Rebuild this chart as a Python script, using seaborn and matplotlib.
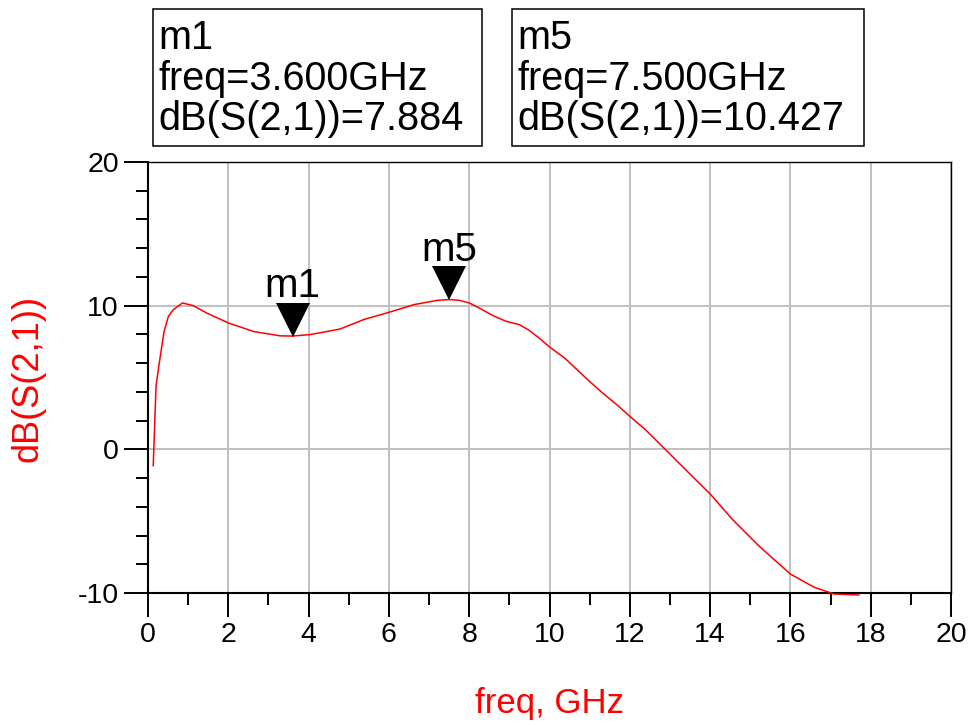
import matplotlib
matplotlib.use("Agg")
import matplotlib.pyplot as plt
import matplotlib.transforms as mtransforms
from matplotlib.patches import Rectangle
import pandas as pd
import seaborn as sns

# S21 magnitude of the amplifier versus frequency
freq_ghz = [0.13, 0.20, 0.28, 0.40, 0.51, 0.63, 0.86, 1.13, 1.46, 2.00, 2.63, 3.29,
            3.60, 4.04, 4.46, 4.79, 5.37, 6.03, 6.62, 7.20, 7.50, 7.76, 8.00, 8.25,
            8.59, 8.92, 9.25, 9.49, 9.74, 10.00, 10.40, 10.90, 11.31, 11.73, 12.00,
            12.38, 12.80, 13.38, 14.00, 14.55, 15.21, 16.00, 16.59, 17.09, 17.71]
s21_db = [-1.16, 4.40, 6.00, 8.20, 9.26, 9.72, 10.19, 10.00, 9.49, 8.80, 8.20, 7.90,
          7.884, 7.99, 8.20, 8.38, 9.03, 9.56, 10.07, 10.37, 10.427, 10.37, 10.19, 9.84,
          9.31, 8.91, 8.68, 8.29, 7.75, 7.13, 6.30, 4.98, 3.95, 2.98, 2.30,
          1.39, 0.23, -1.39, -3.10, -4.86, -6.71, -8.68, -9.60, -10.07, -10.14]

# Markers placed on the trace
marker_names = ["m1", "m5"]
marker_freq = [3.600, 7.500]
marker_db = [7.884, 10.427]

x_ticks = [0, 2, 4, 6, 8, 10, 12, 14, 16, 18, 20]
y_ticks = [-10, 0, 10, 20]

df = pd.DataFrame({"freq": freq_ghz, "dB": s21_db})

sns.set_style("white")
plt.rcParams["font.family"] = ["Liberation Sans", "DejaVu Sans"]

W, H = 972, 725
fig = plt.figure(figsize=(W / 100, H / 100), dpi=100)
ax = fig.add_axes([148 / W, 1 - 593 / H, (951 - 148) / W, (593 - 162) / H])

sns.lineplot(data=df, x="freq", y="dB", color="red", lw=1.1, ax=ax,
             clip_on=False, zorder=3)

ax.set_xlim(0, 20)
ax.set_ylim(-10, 20)
ax.set_xticks(x_ticks)
ax.set_xticks([t + 1 for t in x_ticks[:-1]], minor=True)
ax.set_yticks(y_ticks)
ax.set_yticks([v for v in range(-8, 20, 2) if v % 10 != 0], minor=True)
ax.set_xticklabels([str(t) for t in x_ticks])
ax.set_yticklabels([str(t) for t in y_ticks])

# no tick marks at the far ends of the axes, labels only
for t in ax.xaxis.get_major_ticks():
    if t.get_loc() == 20:
        t.tick1line.set_visible(False)
for t in ax.yaxis.get_major_ticks():
    if t.get_loc() == 20:
        t.tick1line.set_visible(False)

ax.tick_params(which="major", direction="out", length=17, width=1.4,
               labelsize=20.5, pad=4, color="black", labelcolor="black",
               bottom=True, left=True)
ax.tick_params(which="minor", direction="out", length=8.5, width=1.4,
               color="black", bottom=True, left=True)

ax.set_axisbelow(True)
ax.grid(True, which="major", color="#c0c0c0", lw=1.4)

for side in ["left", "bottom"]:
    ax.spines[side].set_linewidth(1.5)
    ax.spines[side].set_color("black")
for side in ["top", "right"]:
    ax.spines[side].set_linewidth(1.0)
    ax.spines[side].set_color("black")

ax.set_xlabel("freq, GHz", color="red", fontsize=25, va="center")
ax.xaxis.set_label_coords(0.5, (593 - 703) / (593 - 162))
ax.set_ylabel("dB(S(2,1))", color="red", fontsize=26, va="center")
ax.yaxis.set_label_coords((28 - 148) / (951 - 148), (593 - 378) / (593 - 162))

# triangle markers with the tip on the trace
tip = mtransforms.offset_copy(ax.transData, fig=fig, x=0, y=16.5, units="dots")
ax.plot(marker_freq, marker_db, "v", ms=23.8, color="black", mew=0,
        transform=tip, clip_on=False, zorder=5)
for name, f, d in zip(marker_names, marker_freq, marker_db):
    ax.annotate(name, (f, d), xytext=(0, 39 * 0.72), textcoords="offset points",
                ha="center", va="baseline", fontsize=29, color="black")

# marker readout boxes
box_left = [153, 512]
box_right = [482, 864]
box_top, box_bottom = 9, 146
baselines = [49, 90, 130]
for name, f, d, x0, x1 in zip(marker_names, marker_freq, marker_db, box_left, box_right):
    fig.add_artist(Rectangle((x0 / W, 1 - box_bottom / H), (x1 - x0) / W,
                             (box_bottom - box_top) / H, transform=fig.transFigure,
                             fill=False, lw=1.1, ec="black"))
    lines = [name, f"freq={f:.3f}GHz", f"dB(S(2,1))={d:.3f}"]
    for txt, yb in zip(lines, baselines):
        fig.text((x0 + 5) / W, 1 - yb / H, txt, ha="left", va="baseline",
                 fontsize=28.5, color="black")

fig.savefig("out.png", dpi=100)
